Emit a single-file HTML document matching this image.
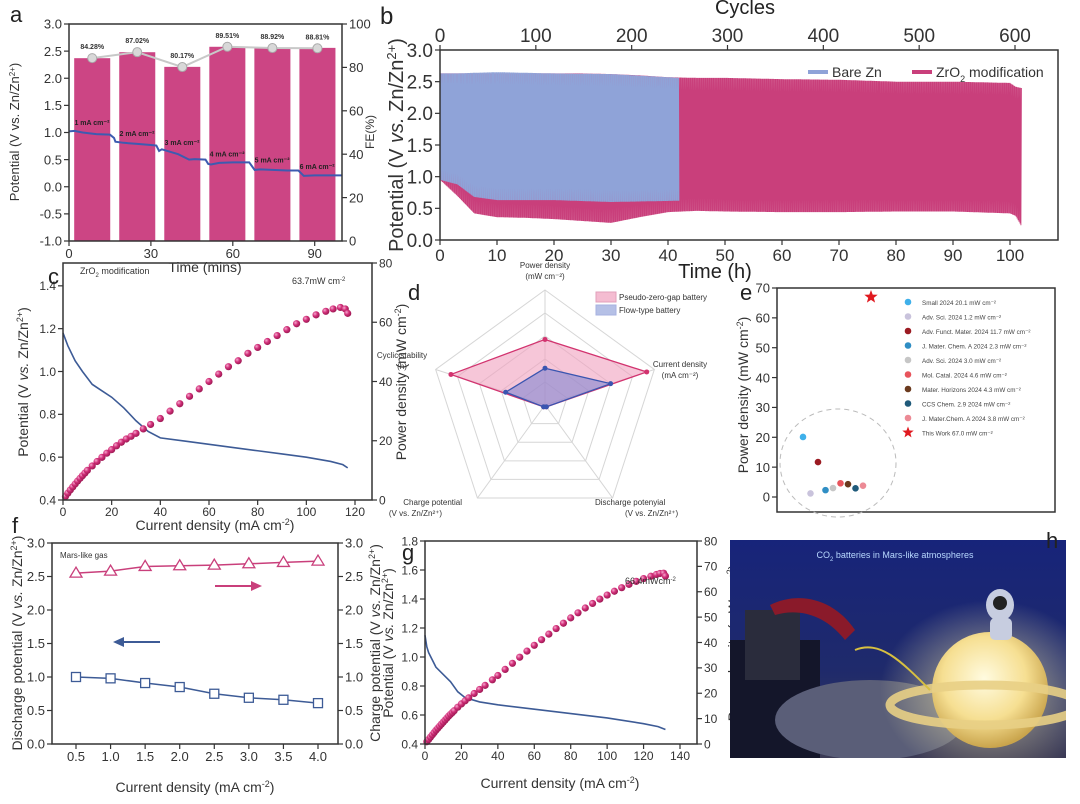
<!DOCTYPE html>
<html><head><meta charset="utf-8">
<style>
body{margin:0;background:#fff;}
svg{display:block;font-family:"Liberation Sans",Arial,sans-serif;}
</style></head>
<body>
<svg id="fig" width="1080" height="804" viewBox="0 0 1080 804" xmlns="http://www.w3.org/2000/svg">
<defs>
<radialGradient id="ballPink" cx="35%" cy="35%" r="65%"><stop offset="0" stop-color="#f6a9cf"/><stop offset="0.5" stop-color="#d2307a"/><stop offset="1" stop-color="#a01a55"/></radialGradient>
<radialGradient id="glow" cx="45%" cy="40%" r="60%"><stop offset="0" stop-color="#fffbe0"/><stop offset="0.6" stop-color="#f6df92"/><stop offset="1" stop-color="#c9a44c"/></radialGradient>
<radialGradient id="halo" cx="50%" cy="50%" r="50%"><stop offset="0" stop-color="#fff3b0" stop-opacity="0.7"/><stop offset="1" stop-color="#fff3b0" stop-opacity="0"/></radialGradient>
<linearGradient id="bgH" x1="0" y1="0" x2="0" y2="1"><stop offset="0" stop-color="#17247a"/><stop offset="0.6" stop-color="#1f2a6b"/><stop offset="1" stop-color="#3b3a55"/></linearGradient>
<clipPath id="photoClip"><rect x="730" y="540" width="336" height="218"/></clipPath>
</defs>
<g id="root"></g>
</svg>
<script>
// ---------- DATA ----------
// panel a
const aBarTimes=[8.5,25,41.5,58,74.5,91];
const aBarV=[2.37,2.48,2.21,2.58,2.56,2.56];
const aFE=[84.28,87.02,80.17,89.51,88.92,88.81];
const aFELabels=["84.28%","87.02%","80.17%","89.51%","88.92%","88.81%"];
const aCurLabels=["1 mA cm\u207B\u00B2","2 mA cm\u207B\u00B2","3 mA cm\u207B\u00B2","4 mA cm\u207B\u00B2","5 mA cm\u207B\u00B2","6 mA cm\u207B\u00B2"];
const aLineT=[0,2,5,10,15,16.5,17,20,25,30,32,33,34,36,40,44,46,50,51,52,55,60,66,67,68,70,80,84,85,86,90,100];
const aLineV=[1.02,1.03,1.0,0.97,0.96,0.9,0.83,0.81,0.79,0.77,0.76,0.66,0.69,0.66,0.6,0.5,0.51,0.5,0.42,0.41,0.44,0.45,0.45,0.38,0.31,0.32,0.3,0.3,0.25,0.2,0.21,0.21];
// panel b
const bPinkT=[0,3,6,10,15,20,25,30,35,40,45,50,60,70,80,90,100,101,102];
const bPinkHi=[2.63,2.63,2.63,2.63,2.63,2.63,2.63,2.62,2.6,2.57,2.56,2.56,2.54,2.53,2.5,2.5,2.48,2.42,2.4];
const bPinkLo=[0.95,0.7,0.42,0.36,0.35,0.33,0.3,0.27,0.36,0.44,0.46,0.45,0.44,0.44,0.45,0.45,0.42,0.38,0.22];
const bBlueT=[0,3,6,10,20,30,42];
const bBlueHi=[2.63,2.63,2.64,2.65,2.63,2.62,2.56];
const bBlueLo=[0.95,0.88,0.68,0.63,0.63,0.6,0.62];
const bCyclesPerHour=6;
// panel c
const cVI=[0,2,5,8,12,16,20,25,30,35,40,50,60,70,80,90,100,110,115,117];
const cV=[1.18,1.12,1.05,1.0,0.94,0.91,0.88,0.83,0.77,0.72,0.69,0.675,0.66,0.645,0.63,0.615,0.6,0.58,0.565,0.55];
const cPI=[1,2,3,4,5,6,7,8,9,10,12,14,16,18,20,22,24,26,28,30,33,36,40,44,48,52,56,60,64,68,72,76,80,84,88,92,96,100,104,108,111,114,116,117];
const cP=[1.2,2.3,3.4,4.4,5.4,6.4,7.3,8.2,9.1,10,11.5,13,14.4,15.8,17,18.3,19.5,20.6,21.5,22.5,24,25.5,27.5,30,32.5,35,37.5,40,42.5,45,47,49.5,51.5,53.5,55.5,57.5,59.5,61,62.5,63.7,64.5,65,64.5,63];
// panel d
const dAxes=["Power density","Current density","Discharge potenyial","Charge potential","Cyclic stability"];
const dPink=[0.57,0.93,0.0,0.0,0.86];
const dBlue=[0.32,0.6,0.0,0.0,0.36];
// panel e
const eLabels=["Small 2024  20.1 mW cm\u207B\u00B2","Adv. Sci. 2024  1.2 mW cm\u207B\u00B2","Adv. Funct. Mater. 2024 11.7 mW cm\u207B\u00B2","J. Mater. Chem. A 2024 2.3 mW cm\u207B\u00B2","Adv. Sci. 2024 3.0 mW cm\u207B\u00B2","Mol. Catal. 2024 4.6 mW cm\u207B\u00B2","Mater. Horizons 2024 4.3 mW cm\u207B\u00B2","CCS Chem. 2.9 2024 mW cm\u207B\u00B2","J. Mater.Chem. A 2024 3.8 mW cm\u207B\u00B2"];
const eValues=[20.1,1.2,11.7,2.3,3.0,4.6,4.3,2.9,3.8];
const eColors=["#3fb0ea","#c9c3dc","#9b1b22","#2f8ec4","#c6c6c6","#e8545c","#6b3a1e","#1f5a7a","#ec8a95"];
const eStar=67.0;
// panel f
const fX=[0.5,1.0,1.5,2.0,2.5,3.0,3.5,4.0];
const fCharge=[2.55,2.58,2.65,2.66,2.67,2.69,2.71,2.73];
const fDis=[1.0,0.98,0.91,0.85,0.75,0.69,0.66,0.61];
// panel g
const gVI=[0,1,2,4,6,10,14,18,22,30,40,60,80,100,120,128,132];
const gV=[1.15,1.07,1.03,0.98,0.93,0.88,0.83,0.76,0.72,0.69,0.67,0.64,0.61,0.58,0.54,0.52,0.5];
const gPI=[1,2,3,4,5,6,7,8,9,10,11,12,13,14,15,16,18,20,22,24,27,30,33,37,40,44,48,52,56,60,64,68,72,76,80,84,88,92,96,100,104,108,112,116,120,124,127,129,131,132];
const gP=[0.9,1.8,2.7,3.6,4.5,5.4,6.2,7.0,7.8,8.6,9.4,10.2,11,11.7,12.4,13.1,14.5,15.8,17,18.2,19.9,21.5,23.1,25.3,27,29.4,31.8,34.2,36.6,38.9,41.1,43.3,45.5,47.6,49.7,51.7,53.6,55.4,57.1,58.7,60.2,61.6,62.9,64.1,65.2,66.1,66.8,67.2,67.3,66.2];

// ---------- HELPERS ----------
const NS="http://www.w3.org/2000/svg";
const root=document.getElementById('root');
function el(tag,attrs,parent,text){const e=document.createElementNS(NS,tag);for(const k in attrs)e.setAttribute(k,attrs[k]);if(text!==undefined)e.textContent=text;(parent||root).appendChild(e);return e;}
function lin(d0,d1,r0,r1){return v=>r0+(v-d0)*(r1-r0)/(d1-d0);}
function interp(ts,vs,t){if(t<=ts[0])return vs[0];for(let i=1;i<ts.length;i++){if(t<=ts[i]){const f=(t-ts[i-1])/(ts[i]-ts[i-1]);return vs[i-1]+f*(vs[i]-vs[i-1]);}}return vs[vs.length-1];}
function box(x0,y0,x1,y1,g){el('rect',{x:x0,y:y0,width:x1-x0,height:y1-y0,fill:'none',stroke:'#333','stroke-width':1.5},g);}
function yTicks(g,x,vals,sc,side,fs,lab){vals.forEach((v,i)=>{const y=sc(v);el('line',{x1:x,x2:x+(side<0?-5:5),y1:y,y2:y,stroke:'#333','stroke-width':1.2},g);const t=el('text',{x:x+(side<0?-7:7),y:y+fs*0.36,'font-size':fs,'text-anchor':side<0?'end':'start',fill:'#333'},g,lab?lab[i]:v);});}
function xTicks(g,y,vals,sc,fs,lab,up){vals.forEach((v,i)=>{const x=sc(v);el('line',{x1:x,x2:x,y1:y,y2:y+(up?-5:5),stroke:'#333','stroke-width':1.2},g);const t=el('text',{x:x,y:up?y-8:y+fs+4,'font-size':fs,'text-anchor':'middle',fill:'#333'},g,lab?lab[i]:v);});}
function panelLabel(x,y,t,fs){const e=el('text',{x:x,y:y,'font-size':fs||24,fill:'#222'},root,t);}
function ytitle(g,x,y,html,fs){const t=el('text',{transform:`translate(${x},${y}) rotate(-90)`,'font-size':fs,'text-anchor':'middle',fill:'#333'},g);t.innerHTML=html;return t;}
function ball(g,x,y,r,fill){const c=el('circle',{cx:x,cy:y,r:r,fill:fill||'url(#ballPink)'},g);return c;}

// ---------- PANEL A ----------
(function(){
const g=el('g',{});
const X=lin(0,100,69,342),Y=lin(-1,3,241,24),F=lin(0,100,241,24);
aBarTimes.forEach((t,i)=>{const r=el('rect',{x:X(t-6.6),y:Y(aBarV[i]),width:X(6.6)-X(-6.6),height:Y(-1)-Y(aBarV[i]),fill:'#cc4584'},g);});
let d='';aLineT.forEach((t,i)=>{d+=(i?'L':'M')+X(t)+','+Y(aLineV[i]);});
const pl=el('path',{d:d,fill:'none',stroke:'#3d5bb0','stroke-width':2},g);
aCurLabels.forEach((s,i)=>{const t=el('text',{x:X(aBarTimes[i]-6.5),y:Y(interp(aLineT,aLineV,aBarTimes[i]-4))-7,'font-size':7,'font-weight':'bold',fill:'#222'},g,s);});
let fd='';aBarTimes.forEach((t,i)=>{fd+=(i?'L':'M')+X(t)+','+F(aFE[i]);});
const fl=el('path',{d:fd,fill:'none',stroke:'#c8c8c8','stroke-width':2},g);
aBarTimes.forEach((t,i)=>{const c=el('circle',{cx:X(t),cy:F(aFE[i]),r:4.5,fill:'#d8d8d8',stroke:'#aaa'},g);
const tl=el('text',{x:X(t),y:F(aFE[i])-9,'font-size':7,'font-weight':'bold','text-anchor':'middle',fill:'#333'},g,aFELabels[i]);});
box(69,24,342,241,g);
yTicks(g,69,[3,2.5,2,1.5,1,0.5,0,-0.5,-1],Y,-1,13,["3.0","2.5","2.0","1.5","1.0","0.5","0.0","-0.5","-1.0"]);
yTicks(g,342,[100,80,60,40,20,0],F,1,13);
xTicks(g,241,[0,30,60,90],X,13);
const xt=el('text',{x:205,y:272,'font-size':14,'text-anchor':'middle',fill:'#333'},g,'Time (mins)');
ytitle(g,19,132,'Potential (V vs. Zn/Zn<tspan baseline-shift="super" font-size="8">2+</tspan>)',13);
ytitle(g,374,132,'FE(%)',12);
panelLabel(10,22,'a',22);
})();

// ---------- PANEL B ----------
(function(){
const g=el('g',{});
const X=lin(0,100,440,1010),Y=lin(0,3,240,50),C=lin(0,600,440,1015);
function zig(ts,hi,lo,color,name){const tEnd=ts[ts.length-1];const half=1/(2*bCyclesPerHour);let d='';let k=0;for(let t=0;t<=tEnd;t+=half,k++){const v=(k%2==0)?interp(ts,hi,t):interp(ts,lo,t);d+=(k?'L':'M')+X(t).toFixed(1)+','+Y(v).toFixed(1);}const p=el('path',{d:d,fill:'none',stroke:color,'stroke-width':0.9},g);}
zig(bPinkT,bPinkHi,bPinkLo,'#c93f7b','zro2-series');
zig(bBlueT,bBlueHi,bBlueLo,'#8fa3d8','bare-zn-series');
box(440,50,1058,240,g);
yTicks(g,440,[3,2.5,2,1.5,1,0.5,0],Y,-1,19,["3.0","2.5","2.0","1.5","1.0","0.5","0.0"]);
xTicks(g,240,[0,10,20,30,40,50,60,70,80,90,100],X,17);
xTicks(g,50,[0,100,200,300,400,500,600],C,19,null,true);
const xt=el('text',{x:715,y:278,'font-size':20,'text-anchor':'middle',fill:'#222'},g,'Time (h)');
const ct=el('text',{x:745,y:14,'font-size':20,'text-anchor':'middle',fill:'#222'},g,'Cycles');
ytitle(g,403,145,'Potential (V <tspan font-style="italic">vs.</tspan> Zn/Zn<tspan baseline-shift="super" font-size="13">2+</tspan>)',20);
const l1=el('line',{x1:808,x2:828,y1:72,y2:72,stroke:'#8fa3d8','stroke-width':4},g);
const t1=el('text',{x:832,y:77,'font-size':14,fill:'#333'},g,'Bare Zn');
const l2=el('line',{x1:912,x2:932,y1:72,y2:72,stroke:'#c93f7b','stroke-width':4},g);
const t2=el('text',{x:936,y:77,'font-size':14,fill:'#333'},g);t2.innerHTML='ZrO<tspan baseline-shift="sub" font-size="9">2</tspan> modification';
panelLabel(380,24,'b',24);
})();

// ---------- PANEL C ----------
(function(){
const g=el('g',{});
const X=lin(0,120,63,355),Y=lin(0.4,1.6,500,243),P=lin(0,80,500,263);
let d='';cVI.forEach((v,i)=>{d+=(i?'L':'M')+X(v)+','+Y(cV[i]);});
const vl=el('path',{d:d,fill:'none',stroke:'#3d5b96','stroke-width':1.6},g);
cPI.forEach((v,i)=>{const c=ball(g,X(v),P(cP[i]),3.6);});
box(63,263,372,500,g);
yTicks(g,63,[0.4,0.6,0.8,1.0,1.2,1.4],Y,-1,12,["0.4","0.6","0.8","1.0","1.2","1.4"]);
yTicks(g,372,[0,20,40,60,80],P,1,12);
xTicks(g,500,[0,20,40,60,80,100,120],X,12);
const xt=el('text',{x:215,y:530,'font-size':14,'text-anchor':'middle',fill:'#333'},g);xt.innerHTML='Current density (mA cm<tspan baseline-shift="super" font-size="9">-2</tspan>)';
ytitle(g,28,382,'Potential (V <tspan font-style="italic">vs.</tspan> Zn/Zn<tspan baseline-shift="super" font-size="9">2+</tspan>)',14);
ytitle(g,406,382,'Power density (mW cm<tspan baseline-shift="super" font-size="9">-2</tspan>)',14);
const t=el('text',{x:80,y:274,'font-size':9,fill:'#333'},g);t.innerHTML='ZrO<tspan baseline-shift="sub" font-size="6">2</tspan> modification';
const t2=el('text',{x:292,y:284,'font-size':9,fill:'#333'},g);t2.innerHTML='63.7mW cm<tspan baseline-shift="super" font-size="6">-2</tspan>';
panelLabel(48,284,'c',22);
})();

// ---------- PANEL D ----------
(function(){
const g=el('g',{});
const cx=545,cy=405,R=115;const ang=[-90,-18,54,126,198].map(a=>a*Math.PI/180);
const pt=(i,f)=>[cx+R*f*Math.cos(ang[i]),cy+R*f*Math.sin(ang[i])];
for(let lv=1;lv<=5;lv++){const pts=ang.map((a,i)=>pt(i,lv/5).join(',')).join(' ');el('polygon',{points:pts,fill:'none',stroke:'#d6d6d6','stroke-width':1},g);}
ang.forEach((a,i)=>{const p=pt(i,1);el('line',{x1:cx,y1:cy,x2:p[0],y2:p[1],stroke:'#d6d6d6'},g);});
function poly(vals,fill,stroke,name){const pts=vals.map((v,i)=>pt(i,Math.max(v,0.02)).join(',')).join(' ');const p=el('polygon',{points:pts,fill:fill,stroke:stroke,'stroke-width':1.3},g);vals.forEach((v,i)=>{const q=pt(i,Math.max(v,0.02));el('circle',{cx:q[0],cy:q[1],r:2.5,fill:stroke},g);});}
poly(dPink,'rgba(240,160,190,0.6)','#d2336f','pseudo-zero-gap-area');
poly(dBlue,'rgba(120,130,210,0.55)','#3a55b0','flow-type-area');
const labs=[[545,268,'Power density','(mW cm\u207B\u00B2)','middle'],[680,367,'Current density','(mA cm\u207B\u00B2)','middle'],[595,505,'Discharge potenyial','(V vs. Zn/Zn\u00B2\u207A)','start'],[462,505,'Charge potential','(V vs. Zn/Zn\u00B2\u207A)','end'],[402,358,'Cyclic stability','(h)','middle']];
labs.forEach((l,i)=>{const t=el('text',{x:l[0],y:l[1],'font-size':8,'text-anchor':l[4],fill:'#333'},g);el('tspan',{x:l[0]},t,l[2]);el('tspan',{x:l[0]+(l[4]=='start'?30:l[4]=='end'?-20:0),dy:11},t,l[3]);});
const r1=el('rect',{x:596,y:292,width:20,height:10,fill:'rgba(240,160,190,0.7)',stroke:'#e2a0bb'},g);
const r2=el('rect',{x:596,y:305,width:20,height:10,fill:'rgba(150,165,220,0.7)',stroke:'#a7b2e0'},g);
const a1=el('text',{x:619,y:300,'font-size':8,fill:'#333'},g,'Pseudo-zero-gap battery');
const a2=el('text',{x:619,y:313,'font-size':8,fill:'#333'},g,'Flow-type battery');
panelLabel(408,300,'d',22);
})();

// ---------- PANEL E ----------
(function(){
const g=el('g',{});
const Y=lin(0,70,497,288);const X=i=>803+i*7.5;
box(777,288,1055,512,g);
yTicks(g,777,[0,10,20,30,40,50,60,70],Y,-1,13);
const cc=el('ellipse',{cx:838,cy:463,rx:58,ry:54,fill:'none',stroke:'#bbb','stroke-width':1,'stroke-dasharray':'5,4'},g);
eValues.forEach((v,i)=>{const c=el('circle',{cx:X(i),cy:Y(v),r:3.6,fill:eColors[i],stroke:'#fff','stroke-width':0.6},g);
const lc=el('circle',{cx:908,cy:302+i*14.5,r:3.3,fill:eColors[i]},g);
const t=el('text',{x:922,y:305+i*14.5,'font-size':6.3,fill:'#444'},g,eLabels[i]);});
const star=(x,y,r)=>{let p='';for(let k=0;k<10;k++){const rr=k%2?r*0.42:r;const a=-Math.PI/2+k*Math.PI/5;p+=(x+rr*Math.cos(a)).toFixed(1)+','+(y+rr*Math.sin(a)).toFixed(1)+' ';}return p;};
const s=el('polygon',{points:star(871,Y(eStar),7),fill:'#e0191f'},g);
const ls=el('polygon',{points:star(908,302+9*14.5,6),fill:'#e0191f'},g);
const t=el('text',{x:922,y:305+9*14.5,'font-size':6.3,fill:'#444'},g,'This Work 67.0 mW cm\u207B\u00B2');
ytitle(g,748,395,'Power density (mW cm<tspan baseline-shift="super" font-size="9">-2</tspan>)',14);
panelLabel(740,300,'e',22);
})();

// ---------- PANEL F ----------
(function(){
const g=el('g',{});
const X=lin(0.5,4.0,76,318),Y=lin(0,3,744,543);
box(52,543,338,744,g);
let d1='',d2='';fX.forEach((x,i)=>{d1+=(i?'L':'M')+X(x)+','+Y(fCharge[i]);d2+=(i?'L':'M')+X(x)+','+Y(fDis[i]);});
const l1=el('path',{d:d1,fill:'none',stroke:'#c93f7b','stroke-width':1.5},g);
const l2=el('path',{d:d2,fill:'none',stroke:'#3d5b96','stroke-width':1.5},g);
fX.forEach((x,i)=>{const a=X(x),b=Y(fCharge[i]);const tr=el('polygon',{points:`${a},${b-6} ${a-6},${b+4} ${a+6},${b+4}`,fill:'#fff',stroke:'#c93f7b','stroke-width':1.3},g);
const sq=el('rect',{x:a-4.5,y:Y(fDis[i])-4.5,width:9,height:9,fill:'#fff',stroke:'#3d5b96','stroke-width':1.3},g);});
el('line',{x1:215,x2:255,y1:586,y2:586,stroke:'#c93f7b','stroke-width':2},g);el('polygon',{points:'262,586 251,581 251,591',fill:'#c93f7b'},g);
el('line',{x1:120,x2:160,y1:642,y2:642,stroke:'#3d5b96','stroke-width':2},g);el('polygon',{points:'113,642 124,637 124,647',fill:'#3d5b96'},g);
yTicks(g,52,[0,0.5,1,1.5,2,2.5,3],Y,-1,13,["0.0","0.5","1.0","1.5","2.0","2.5","3.0"]);
yTicks(g,338,[0,0.5,1,1.5,2,2.5,3],Y,1,13,["0.0","0.5","1.0","1.5","2.0","2.5","3.0"]);
xTicks(g,744,fX,X,13,["0.5","1.0","1.5","2.0","2.5","3.0","3.5","4.0"]);
const xt=el('text',{x:195,y:792,'font-size':14,'text-anchor':'middle',fill:'#333'},g);xt.innerHTML='Current density (mA cm<tspan baseline-shift="super" font-size="9">-2</tspan>)';
ytitle(g,22,643,'Discharge potential (V <tspan font-style="italic">vs.</tspan> Zn/Zn<tspan baseline-shift="super" font-size="9">2+</tspan>)',14);
const t=el('text',{x:60,y:558,'font-size':8,fill:'#333'},g,'Mars-like gas');
panelLabel(12,533,'f',22);
})();

// ---------- PANEL G ----------
(function(){
const g=el('g',{});
const X=lin(0,140,425,680),Y=lin(0.4,1.8,744,541),P=lin(0,80,744,541);
let d='';gVI.forEach((v,i)=>{d+=(i?'L':'M')+X(v)+','+Y(gV[i]);});
const vl=el('path',{d:d,fill:'none',stroke:'#3d5b96','stroke-width':1.6},g);
gPI.forEach((v,i)=>{const c=ball(g,X(v),P(gP[i]),3.6);});
box(425,541,697,744,g);
yTicks(g,425,[0.4,0.6,0.8,1.0,1.2,1.4,1.6,1.8],Y,-1,12,["0.4","0.6","0.8","1.0","1.2","1.4","1.6","1.8"]);
yTicks(g,697,[0,10,20,30,40,50,60,70,80],P,1,12);
xTicks(g,744,[0,20,40,60,80,100,120,140],X,12);
const xt=el('text',{x:560,y:788,'font-size':14,'text-anchor':'middle',fill:'#333'},g);xt.innerHTML='Current density (mA cm<tspan baseline-shift="super" font-size="9">-2</tspan>)';
ytitle(g,380,643,'Charge potential (V <tspan font-style="italic">vs.</tspan> Zn/Zn<tspan baseline-shift="super" font-size="9">2+</tspan>)',14);
ytitle(g,393,643,'Potential (V <tspan font-style="italic">vs.</tspan> Zn/Zn<tspan baseline-shift="super" font-size="9">2+</tspan>)',14);
ytitle(g,738,643,'Power density (mW cm<tspan baseline-shift="super" font-size="9">-2</tspan>)',14);
const t=el('text',{x:625,y:584,'font-size':9,fill:'#333'},g);t.innerHTML='66.4mWcm<tspan baseline-shift="super" font-size="6">-2</tspan>';
panelLabel(402,560,'g',22);
})();

// ---------- PANEL H (photo) ----------
(function(){
const g=el('g',{'clip-path':'url(#photoClip)'});
el('rect',{x:730,y:540,width:336,height:218,fill:'url(#bgH)'},g);
el('rect',{x:730,y:640,width:90,height:118,fill:'#14162a'},g);
el('rect',{x:745,y:610,width:55,height:70,fill:'#2a2c3c'},g);
el('path',{d:'M770,605 C800,590 835,600 855,630 L845,640 C825,615 800,608 775,615Z',fill:'#8a1a2a'},g);
el('ellipse',{cx:870,cy:720,rx:95,ry:40,fill:'#5a5e78'},g);
el('ellipse',{cx:990,cy:690,rx:110,ry:90,fill:'url(#halo)'},g);
el('circle',{cx:990,cy:690,r:58,fill:'url(#glow)'},g);
el('ellipse',{cx:985,cy:705,rx:95,ry:20,fill:'none',stroke:'#e8cf85','stroke-width':9,opacity:0.9},g);
el('ellipse',{cx:1000,cy:605,rx:14,ry:16,fill:'#c7cde0'},g);
el('rect',{x:990,y:618,width:22,height:22,rx:5,fill:'#c7cde0'},g);
el('circle',{cx:1000,cy:603,r:7,fill:'#222'},g);
el('path',{d:'M855,650 C880,640 900,660 930,690',fill:'none',stroke:'#d8c040','stroke-width':2},g);
const t=el('text',{x:895,y:558,'font-size':9,'text-anchor':'middle',fill:'#b8d8ff'},g);t.innerHTML='CO<tspan baseline-shift="sub" font-size="6">2</tspan> batteries in Mars-like atmospheres';
panelLabel(1046,548,'h',22);
})();
</script>
</body></html>
